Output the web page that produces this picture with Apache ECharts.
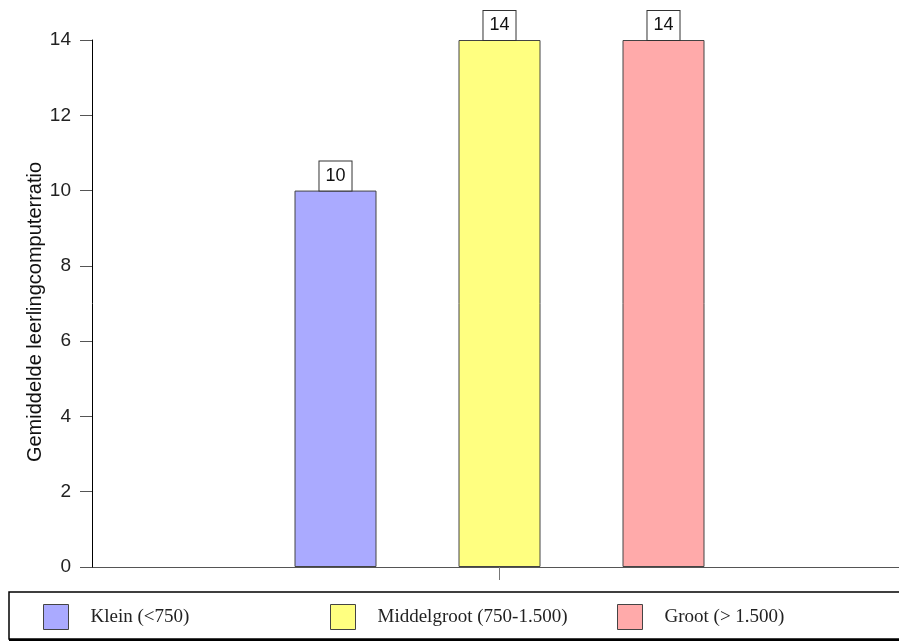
<!DOCTYPE html>
<html>
<head>
<meta charset="utf-8">
<script src="https://cdn.jsdelivr.net/npm/echarts@6/dist/echarts.min.js"></script>
<style>html,body{margin:0;padding:0;background:#fff;}#c{width:899px;height:642px;}</style>
</head>
<body>
<div id="c"></div>
<script>
const categories = [''];
const seriesNames = ['Klein (<750)', 'Middelgroot (750-1.500)', 'Groot (> 1.500)'];
const seriesValues = [[10], [14], [14]];
const seriesColors = ['#aaaaff', '#ffff80', '#ffaaaa'];
const yTicks = { min: 0, max: 14, interval: 2 };
const yTitle = 'Gemiddelde leerlingcomputerratio';

const chart = echarts.init(document.getElementById('c'), null, { renderer: 'canvas' });
const legendLefts = [43, 330, 617];

const option = {
  animation: false,
  backgroundColor: '#fff',
  grid: { left: 100, top: 40, right: 0, bottom: 75, containLabel: false },
  xAxis: {
    type: 'category',
    data: categories,
    axisLine: { show: true, lineStyle: { color: '#555', width: 1 } },
    axisTick: { show: true, alignWithLabel: true, length: 13, lineStyle: { color: '#777' } },
    axisLabel: { show: false },
    splitLine: { show: false }
  },
  yAxis: {
    type: 'value',
    offset: 8,
    min: yTicks.min, max: yTicks.max, interval: yTicks.interval,
    axisLine: { show: true, lineStyle: { color: '#000', width: 1 } },
    axisTick: { show: true, length: 12, lineStyle: { color: '#555' } },
    axisLabel: { margin: 21, fontFamily: 'Arial, Liberation Sans', fontSize: 19, color: '#222' },
    splitLine: { show: false }
  },
  legend: seriesNames.map((n, i) => ({
    data: [n],
    left: legendLefts[i],
    top: 604,
    itemWidth: 25, itemHeight: 25, itemGap: 23,
    icon: 'rect',
    padding: 0,
    itemStyle: { borderColor: '#444', borderWidth: 1 },
    textStyle: { fontFamily: 'Liberation Serif, Times New Roman, serif', fontSize: 19, color: '#222', padding: [0, 0, 0, 17] },
    selectedMode: false
  })),
  graphic: [
    {
      type: 'line',
      shape: { x1: 92, y1: 567.5, x2: 101, y2: 567.5 },
      style: { stroke: '#555', lineWidth: 1 }
    },
    {
      type: 'rect',
      shape: { x: 9, y: 592, width: 905, height: 47 },
      style: { fill: 'none', stroke: '#000', lineWidth: 1.5 },
      z: -1
    },
    {
      type: 'line',
      shape: { x1: 9, y1: 640, x2: 910, y2: 640 },
      style: { stroke: '#000', lineWidth: 2 }
    },
    {
      type: 'text',
      x: 35, y: 312,
      rotation: Math.PI / 2,
      style: {
        text: yTitle,
        fontFamily: 'Arial, Liberation Sans',
        fontSize: 20,
        fill: '#111',
        textAlign: 'center',
        textVerticalAlign: 'middle'
      }
    }
  ],
  series: seriesNames.map((n, i) => ({
    name: n,
    type: 'bar',
    data: seriesValues[i],
    barWidth: 82,
    barGap: '100%',
    itemStyle: { color: seriesColors[i], borderColor: '#444', borderWidth: 1 },
    label: {
      show: true,
      position: 'top',
      distance: 0,
      fontFamily: 'Arial, Liberation Sans',
      fontSize: 18,
      color: '#111',
      backgroundColor: '#fff',
      borderColor: '#333',
      borderWidth: 1,
      padding: [5, 6, 5, 6],
      lineHeight: 19
    }
  }))
};
chart.setOption(option);
</script>
</body>
</html>
